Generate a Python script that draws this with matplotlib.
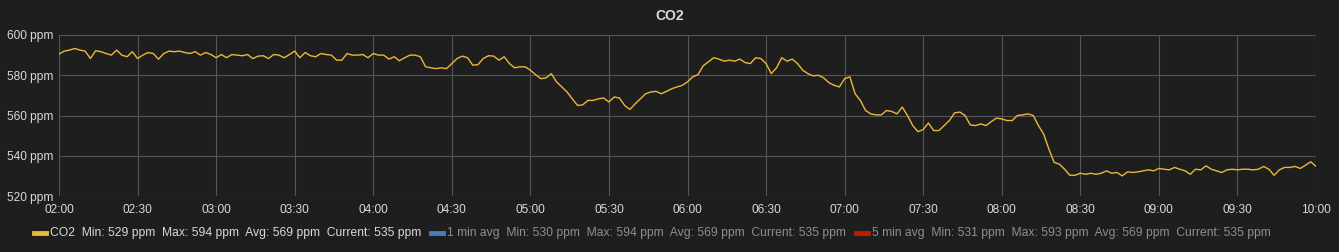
import matplotlib.pyplot as plt
import numpy as np

# CO2 readings, one every 2 minutes from 02:00 to 10:00
minutes = np.arange(0, 481, 2)
co2 = [590.5, 592, 592.5, 593.3, 592.5, 592, 588.3, 592.2, 591.7, 590.8,
       590, 592.5, 590, 589.2, 591.7, 588.3, 590, 591.3, 590.8, 588,
       590.8, 592, 591.7, 592, 591.3, 590.8, 591.7, 590, 591.3, 590.3,
       588.7, 590.3, 588.7, 590.3, 590, 589.7, 590.3, 588.3, 589.5, 589.7,
       588.3, 590.3, 590, 588.7, 590.3, 592, 588.7, 591.3, 589.7, 589.2,
       590.8, 590.3, 590, 587.5, 587.5, 590.8, 590, 590, 590.3, 588.7,
       590.8, 590, 590, 588, 589.2, 587.2, 588.7, 590, 590, 589.2,
       584.2, 583.7, 583.3, 583.7, 583.3, 585.8, 588.3, 589.5, 588.7, 585,
       585.3, 588.3, 589.7, 589.5, 587.5, 589.2, 585.8, 583.7, 584.2, 584.2,
       582.5, 580.3, 578.3, 578.7, 580.8, 576.7, 574.2, 571.7, 568.3, 565,
       565.3, 567.5, 567.5, 568.3, 568.7, 566.7, 569.2, 568.7, 565, 563,
       565.8, 568.3, 570.8, 571.7, 572, 570.8, 572, 573.3, 574.2, 575,
       576.7, 579.2, 580.3, 584.7, 586.7, 588.7, 588, 587, 587.5, 587,
       588, 586.3, 585.8, 588.7, 588.3, 585.8, 580.8, 583.7, 588.7, 587,
       588, 585.8, 582.5, 580.8, 579.7, 580, 578.7, 576.3, 575, 574.2,
       578.3, 579.2, 570.8, 567.5, 562.5, 560.8, 560.3, 560.3, 562.5, 562,
       560.8, 564.2, 560, 555, 552, 553, 556.3, 552.5, 552.5, 555,
       557.5, 561.3, 561.7, 560, 555.3, 555, 555.8, 555, 557, 558.7,
       558.3, 557.5, 557.5, 560, 560.3, 560.8, 560, 555, 550.8, 543.3,
       536.7, 535.8, 533.3, 530.3, 530.3, 531.3, 530.8, 531.3, 530.8, 531.3,
       532.5, 531.3, 531.7, 530, 532, 531.7, 532, 532.5, 533, 532.5,
       533.7, 533.3, 533, 534.2, 533.3, 532.5, 530.8, 533.3, 533, 535,
       533.3, 532.5, 531.7, 533, 533.3, 533, 533.3, 533.3, 533, 533.3,
       534.7, 533.3, 530.3, 533, 534.2, 534.2, 534.7, 533.7, 535.3, 537,
       534.7]

x_ticks = np.arange(0, 481, 30)
x_labels = ['02:00', '02:30', '03:00', '03:30', '04:00', '04:30', '05:00',
            '05:30', '06:00', '06:30', '07:00', '07:30', '08:00', '08:30',
            '09:00', '09:30', '10:00']
y_ticks = [520, 540, 560, 580, 600]

legend_names = ['CO2', '1 min avg', '5 min avg']
legend_stats = [(529, 594, 569, 535), (530, 594, 569, 535), (531, 593, 569, 535)]

bg = '#1f1e1f'
plt.rcParams['font.family'] = ['Liberation Sans', 'DejaVu Sans']

fig = plt.figure(figsize=(13.39, 2.52), dpi=100, facecolor=bg)
ax = fig.add_axes([59 / 1339, 1 - 196 / 252, 1257 / 1339, 161 / 252])
ax.set_facecolor(bg)

ax.plot(minutes, co2, color='#eab839', lw=1.0)

ax.set_xlim(0, 480)
ax.set_ylim(520, 600)
ax.set_xticks(x_ticks)
ax.set_xticklabels(x_labels)
ax.set_yticks(y_ticks)
ax.set_yticklabels(['%d ppm' % v for v in y_ticks])
ax.tick_params(length=0, colors='#d8d9da', labelsize=8.6, pad=6)
ax.tick_params(axis='y', pad=4)
ax.grid(True, color='#555555', lw=0.8)
for s in ax.spines.values():
    s.set_visible(False)

fig.text(0.5, 1 - 16 / 252, 'CO2', ha='center', va='center',
         color='#d8d9da', fontsize=10, fontweight='bold')

# legend row
colors = ['#eab839', '#447ebc', '#bf1b00']
text_colors = ['#d8d9da', '#8e8e8e', '#8e8e8e']
starts = [34, 431, 856]
ly = 1 - 233 / 252
for name, st, c, tc, x0 in zip(legend_names, legend_stats, colors, text_colors, starts):
    fig.add_artist(plt.Line2D([x0 / 1339, (x0 + 12) / 1339], [ly, ly],
                              color=c, lw=3.5, transform=fig.transFigure))
    label = '%s  Min: %d ppm  Max: %d ppm  Avg: %d ppm  Current: %d ppm' % ((name,) + st)
    fig.text((x0 + 16) / 1339, ly, label, ha='left', va='center',
             color=tc, fontsize=8.77)

plt.savefig('out.png', dpi=100, facecolor=bg)
